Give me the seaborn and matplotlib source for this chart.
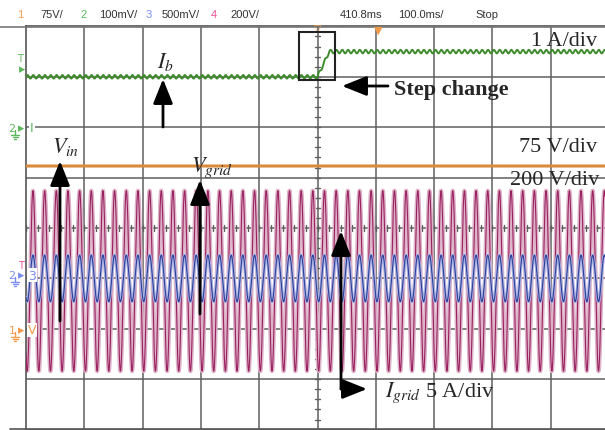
import numpy as np
import pandas as pd
import matplotlib
matplotlib.use("Agg")
import matplotlib.pyplot as plt
from matplotlib.patches import Rectangle
from matplotlib.lines import Line2D
import seaborn as sns

# ---------------- data (in screen divisions) ----------------
n_time_div = 10                 # 100 ms/div
grid_cycles_per_div = 5         # 50 Hz at 100 ms/div
ib_levels = [3.0, 3.5]          # channel 2 (1 A/div) before / after step
ib_step_times = [5.0, 5.2]      # start / end of step (div)
ib_ripple_amp = 0.035
ib_ripple_cycles_per_div = 10   # 100 Hz ripple
vin_level = 1.23                # channel 1 (75 V/div)
vgrid_offset, vgrid_amp = -1.05, 1.79   # channel 4 (200 V/div)
igrid_offset, igrid_amp = -1.0, 0.46    # channel 3 (5 A/div)
grid_phase_div = 0.12

header_items = [("1", 17, "#f39a4a"), ("75V/", 40, "#333333"),
                ("2", 80, "#5cb85c"), ("100mV/", 99, "#333333"),
                ("3", 146, "#7a8cf0"), ("500mV/", 162, "#333333"),
                ("4", 211, "#f0509a"), ("200V/", 230, "#333333"),
                ("410.8ms", 340, "#333333"), ("100.0ms/", 398, "#333333"),
                ("Stop", 475, "#333333")]

# ---------------- figure geometry ----------------
W, H = 605, 431
X0, DX = 26.0, 58.3      # px of left edge, px per div
Y0, DY = 229.0, 50.4     # px of centre line, px per div

sns.set_theme(style="white")
plt.rcParams["mathtext.fontset"] = "stix"
plt.rcParams["font.family"] = ["Liberation Serif", "DejaVu Sans"]

fig = plt.figure(figsize=(W / 100, H / 100), dpi=100)
fig.patch.set_facecolor("white")
ax = fig.add_axes([X0 / W, 1 - (Y0 + 4 * DY) / H, (W - X0) / W, 8 * DY / H])
xmax = (W - X0) / DX
ax.set_xlim(0, xmax)
ax.set_ylim(-4, 4)
ax.set_xticks([]); ax.set_yticks([])
ax.spines["right"].set_visible(False)
for s in ["left", "bottom", "top"]:
    ax.spines[s].set_color("#555555")
    ax.spines[s].set_linewidth(1.2)

def F(px, py):
    return (px / W, 1 - py / H)

# grid
grid_c = "#5f5f5f"
for gx in range(1, n_time_div):
    ax.axvline(gx, color=grid_c, lw=1.1, zorder=1)
for gy in range(-3, 4):
    ax.axhline(gy, color=grid_c, lw=1.1, zorder=1)
# centre line minor ticks
for ty in np.arange(-4, 4.01, 0.2):
    ax.plot([5 - 0.05, 5 + 0.05], [ty, ty], color=grid_c, lw=1, zorder=1)
for tx in np.arange(0, xmax, 0.2):
    ax.plot([tx, tx], [-0.06, 0.06], color=grid_c, lw=1, zorder=1)

# ---------------- waveforms ----------------
t = np.linspace(0, xmax, 6000)
phase = 2 * np.pi * grid_cycles_per_div * (t - grid_phase_div)
vgrid = vgrid_offset + vgrid_amp * np.cos(phase)
igrid = igrid_offset + igrid_amp * np.cos(phase)
ib_base = np.interp(t, ib_step_times, ib_levels)
ib = ib_base + ib_ripple_amp * np.sin(2 * np.pi * ib_ripple_cycles_per_div * t)
vin = np.full_like(t, vin_level)

df = pd.DataFrame({"t": t, "vgrid": vgrid, "igrid": igrid, "ib": ib, "vin": vin})

sns.lineplot(data=df, x="t", y="vgrid", ax=ax, color="#ddb3c8", lw=3.0,
             estimator=None, sort=False, zorder=2)
sns.lineplot(data=df, x="t", y="vgrid", ax=ax, color="#9a2160", lw=0.8,
             estimator=None, sort=False, zorder=3)
sns.lineplot(data=df, x="t", y="igrid", ax=ax, color="#a7b3e6", lw=2.2,
             estimator=None, sort=False, zorder=4)
sns.lineplot(data=df, x="t", y="igrid", ax=ax, color="#2f3d96", lw=0.8,
             estimator=None, sort=False, zorder=5)
sns.lineplot(data=df, x="t", y="vin", ax=ax, color="#d98a3a", lw=2.2,
             estimator=None, sort=False, zorder=5)
sns.lineplot(data=df, x="t", y="ib", ax=ax, color="#3d8c2c", lw=1.4,
             estimator=None, sort=False, zorder=5)
ax.set_xlabel(""); ax.set_ylabel("")

# ---------------- header ----------------
for txt, px, c in header_items:
    fig.text(px / W, 1 - 15 / H, txt, color=c, fontsize=8,
             family=["Liberation Sans", "DejaVu Sans"], va="center", ha="left")
fig.add_artist(Line2D([0, 1], [1 - 27.5 / H] * 2, color="#777777", lw=1.2))
fig.add_artist(Line2D([10 / W, 1], [1 - 430 / H] * 2, color="#555555", lw=1.2))

# top trigger markers
fig.text(318 / W, 1 - 29 / H, "▽", color="#f39a4a", fontsize=7,
         family="DejaVu Sans", ha="center", va="center")
fig.text(378 / W, 1 - 31 / H, "▼", color="#f39a4a", fontsize=8,
         family="DejaVu Sans", ha="center", va="center")

# left channel markers
sans = ["DejaVu Sans"]
def ground(px, py, c):
    x = px / W
    fig.add_artist(Line2D([x, x], [1 - py / H, 1 - (py + 5) / H], color=c, lw=1))
    for k, half in enumerate([4, 2.5, 1]):
        yy = 1 - (py + 5 + 2 * k) / H
        fig.add_artist(Line2D([(px - half) / W, (px + half) / W], [yy, yy], color=c, lw=1))

fig.text(20 / W, 1 - 59 / H, "T", color="#5cb85c", fontsize=7, family=sans, ha="center", va="center")
fig.text(22 / W, 1 - 70 / H, "▸", color="#5cb85c", fontsize=9, family=sans, ha="center", va="center")
for py, num, lab, c in [(129, "2", "I", "#5cb85c"), (276, "2", "3", "#7a8cf0"), (331, "1", "V", "#f39a4a")]:
    fig.text(12 / W, 1 - py / H, num, color=c, fontsize=8,
             family=sans, ha="center", va="center")
    fig.text(21 / W, 1 - py / H, "▸", color=c, fontsize=9, family=sans, ha="center", va="center")
    ground(15, py + 2, c)
    fig.text(32 / W, 1 - py / H, lab, color=c, fontsize=9, family=sans, ha="center", va="center",
             bbox=dict(facecolor="white", edgecolor="none", pad=0.5))
fig.text(21 / W, 1 - 266 / H, "T", color="#f0509a", fontsize=7, family=sans, ha="center", va="center")

# ---------------- annotations ----------------
serif = ["Liberation Serif", "DejaVu Serif"]
fs = 16
fig.text(*F(165, 62), r"$I_b$", fontsize=fs, ha="center", va="center")
fig.text(*F(66, 147), r"$V_{in}$", fontsize=fs, ha="center", va="center")
fig.text(*F(212, 168), r"$V_{grid}$", fontsize=fs, ha="center", va="center")
fig.text(*F(385, 393), r"$I_{grid}$ 5 A/div", fontsize=fs, ha="left", va="center", family=serif)
fig.text(*F(394, 90), "Step change", fontsize=fs, fontweight="bold", ha="left", va="center", family=serif)
fig.text(*F(597, 42), "1 A/div", fontsize=fs, ha="right", va="center", family=serif)
fig.text(*F(597, 147), "75 V/div", fontsize=fs, ha="right", va="center", family=serif)
fig.text(*F(599, 181), "200 V/div", fontsize=fs, ha="right", va="center", family=serif)

arrow = dict(arrowstyle="-|>,head_length=0.75,head_width=0.3", lw=2, color="black",
             mutation_scale=20, shrinkA=0, shrinkB=0)
def arr(p0, p1):
    ax.annotate("", xy=F(*p1), xytext=F(*p0), xycoords="figure fraction",
                textcoords="figure fraction", arrowprops=arrow, zorder=10)

arr((163, 128), (163, 80))      # I_b
arr((60, 322), (60, 162))       # V_in
arr((200, 315), (200, 181))     # V_grid
arr((341, 390), (341, 232))     # I_grid up
arr((341, 390), (367, 390))     # I_grid right
arr((388, 87), (342, 87))       # step change

fig.add_artist(Rectangle(F(299, 81), 36 / W, 48 / H, fill=False,
                         edgecolor="#222222", lw=1.5, transform=fig.transFigure, zorder=10))

fig.savefig("out.png", dpi=100, facecolor="white")
